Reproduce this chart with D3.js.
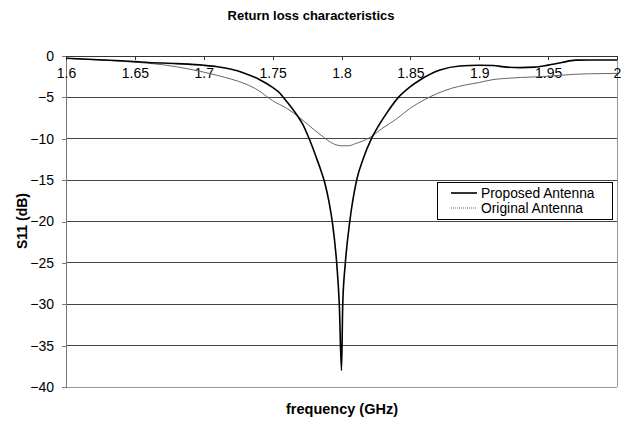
<!DOCTYPE html>
<html><head><meta charset="utf-8">
<script src="https://cdn.jsdelivr.net/npm/d3@7"></script>
<style>body{margin:0;background:#fff}svg{display:block}text{font-family:"Liberation Sans",Arial,sans-serif}</style>
</head><body><svg id="c" width="624" height="421"></svg>
<script>
const xTicks = [1.6, 1.65, 1.7, 1.75, 1.8, 1.85, 1.9, 1.95, 2];
const xTickLabels = ["1.6","1.65","1.7","1.75","1.8","1.85","1.9","1.95","2"];
const yTicks = [0, -5, -10, -15, -20, -25, -30, -35, -40];
const freqProposed = [1.600,1.620,1.640,1.650,1.660,1.680,1.700,1.710,1.720,1.730,1.740,1.750,1.7553,1.7578,1.7675,1.772,1.775,1.778,1.782,1.785,1.788,1.791,1.7933,1.7965,1.7984,1.800,1.8009,1.8028,1.806,1.811,1.8158,1.822,1.827,1.8328,1.8413,1.850,1.857,1.8715,1.886,1.900,1.910,1.920,1.930,1.940,1.950,1.960,1.970,1.980,2.000];
const s11Proposed = [-0.28,-0.42,-0.58,-0.68,-0.78,-0.92,-1.12,-1.3,-1.6,-2.1,-2.8,-3.8,-4.5,-5.0,-7.1,-8.3,-9.4,-10.6,-12.4,-13.8,-15.4,-17.7,-20,-25,-30,-38,-30,-25,-20,-15,-12.4,-9.9,-8.4,-6.9,-5.0,-3.7,-2.9,-1.7,-1.2,-1.12,-1.15,-1.35,-1.4,-1.35,-1.1,-0.78,-0.5,-0.48,-0.48];
const freqOriginal = [1.600,1.620,1.650,1.670,1.690,1.700,1.710,1.720,1.730,1.740,1.745,1.750,1.760,1.770,1.780,1.787,1.790,1.800,1.805,1.810,1.820,1.830,1.840,1.850,1.860,1.870,1.880,1.890,1.900,1.910,1.920,1.930,1.950,1.970,1.980,2.000];
const s11Original = [-0.28,-0.45,-0.75,-1.05,-1.6,-1.95,-2.35,-2.8,-3.35,-4.2,-4.8,-5.4,-6.3,-7.5,-8.9,-9.8,-10.2,-10.85,-10.85,-10.6,-9.9,-8.7,-7.6,-6.3,-5.3,-4.5,-3.9,-3.5,-3.2,-2.85,-2.7,-2.6,-2.45,-2.2,-2.15,-2.1];
const seriesNames = ["Proposed Antenna", "Original Antenna"];

const svg = d3.select("#c");
const L = 66, R = 617, T = 56, B = 387;
const x = d3.scaleLinear().domain([1.6, 2]).range([L, R]);
const y = d3.scaleLinear().domain([0, -40]).range([T, B]);

// grid
svg.append("g").selectAll("line").data(yTicks.filter(v => v < 0 && v > -40)).join("line")
  .attr("x1", L).attr("x2", R).attr("y1", d => y(d)).attr("y2", d => y(d))
  .attr("stroke", "#444").attr("stroke-width", 1).attr("shape-rendering", "crispEdges");
// border right & bottom
svg.append("line").attr("x1", R).attr("x2", R).attr("y1", T).attr("y2", B).attr("stroke", "#999").attr("shape-rendering", "crispEdges");
svg.append("line").attr("x1", L).attr("x2", R).attr("y1", B).attr("y2", B).attr("stroke", "#999").attr("shape-rendering", "crispEdges");

// y axis
const yAxis = svg.append("g").attr("transform", `translate(${L},0)`)
  .call(d3.axisLeft(y).tickValues(yTicks).tickSize(4).tickPadding(8).tickFormat(d3.format("d")));
yAxis.select(".domain").attr("stroke", "#777").attr("shape-rendering", "crispEdges");
yAxis.selectAll(".tick line").attr("stroke", "#777").attr("shape-rendering", "crispEdges");
yAxis.selectAll("text").attr("font-size", 14).attr("fill", "#000").attr("font-family", '"Liberation Sans",Arial,sans-serif');

// x axis at y=0
const xAxis = svg.append("g").attr("transform", `translate(0,${y(0)})`)
  .call(d3.axisBottom(x).tickValues(xTicks).tickSize(4).tickPadding(8).tickFormat((d, i) => xTickLabels[i]));
xAxis.select(".domain").attr("stroke", "#333").attr("shape-rendering", "crispEdges");
xAxis.selectAll(".tick line").attr("stroke", "#333").attr("shape-rendering", "crispEdges");
xAxis.selectAll("text").attr("font-size", 14).attr("fill", "#000").attr("font-family", '"Liberation Sans",Arial,sans-serif');

const line = d3.line().x(d => x(d[0])).y(d => y(d[1])).curve(d3.curveMonotoneX);
svg.append("path").datum(d3.zip(freqOriginal, s11Original)).attr("d", line)
  .attr("fill", "none").attr("stroke", "#666").attr("stroke-width", 1);
svg.append("path").datum(d3.zip(freqProposed, s11Proposed)).attr("d", line)
  .attr("fill", "none").attr("stroke", "#000").attr("stroke-width", 1.6);

// titles
svg.append("text").attr("x", 311).attr("y", 20).attr("text-anchor", "middle")
  .attr("font-size", 13).attr("font-weight", "bold").text("Return loss characteristics");
svg.append("text").attr("x", 342).attr("y", 414).attr("text-anchor", "middle")
  .attr("font-size", 14.5).attr("font-weight", "bold").text("frequency (GHz)");
svg.append("text").attr("transform", "translate(27,221) rotate(-90)").attr("text-anchor", "middle")
  .attr("font-size", 14).attr("font-weight", "bold").text("S11 (dB)");

// legend
const lg = svg.append("g");
lg.append("rect").attr("x", 437.5).attr("y", 182.5).attr("width", 175).attr("height", 37)
  .attr("fill", "#fff").attr("stroke", "#000").attr("stroke-width", 1);
const styles = [{c: "#000", w: 1.6, dash: null}, {c: "#666", w: 1, dash: "1,1"}];
seriesNames.forEach((n, i) => {
  const yy = 193 + i * 15;
  lg.append("line").attr("x1", 451).attr("x2", 477).attr("y1", yy).attr("y2", yy)
    .attr("stroke", styles[i].c).attr("stroke-width", styles[i].w).attr("stroke-dasharray", styles[i].dash);
  lg.append("text").attr("x", 481).attr("y", yy + 5).attr("font-size", 13.8).text(n);
});
</script></body></html>
